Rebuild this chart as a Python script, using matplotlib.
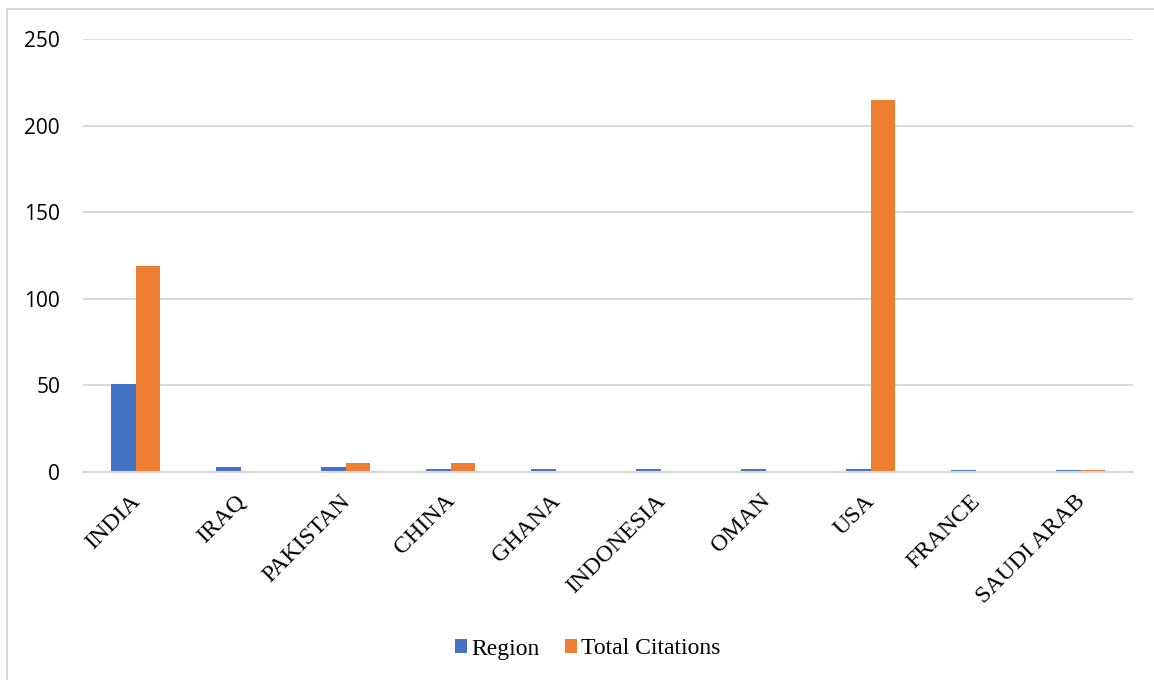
import matplotlib
matplotlib.use("Agg")
import matplotlib.pyplot as plt
import matplotlib.transforms as mtransforms
import numpy as np
from matplotlib.patches import Rectangle

countries = ["INDIA", "IRAQ", "PAKISTAN", "CHINA", "GHANA", "INDONESIA", "OMAN", "USA", "FRANCE", "SAUDI ARAB"]
region = [51, 3, 3, 2, 2, 2, 2, 2, 1, 1]
total_citations = [119, 0, 5, 5, 0, 0, 0, 215, 0, 1]
yticks = [0, 50, 100, 150, 200, 250]

fig = plt.figure(figsize=(11.54, 6.8), dpi=100)
ax = fig.add_axes([83/1154, 1-472/680, 1050/1154, 433/680])

x = np.arange(len(countries))
w = 0.238
ax.bar(x - w/2, region, width=w, color="#4472C4", label="Region", zorder=3)
ax.bar(x + w/2, total_citations, width=w, color="#ED7D31", label="Total Citations", zorder=3)

ax.set_xlim(-0.5, len(countries) - 0.5)
ax.set_ylim(0, 250)
ax.set_yticks(yticks)
ax.set_yticklabels([str(t) for t in yticks], fontfamily="Open Sans", fontsize=15)
ax.tick_params(axis="y", length=0, pad=16.5)
ax.yaxis.grid(True, color="#d9d9d9", linewidth=1.5, zorder=0)
for s in ["top", "right", "left"]:
    ax.spines[s].set_visible(False)
ax.spines["bottom"].set_color("#d9d9d9")
ax.spines["bottom"].set_linewidth(1.5)
ax.spines["bottom"].set_zorder(4)

ax.set_xticks(x)
ax.set_xticklabels(countries, rotation=45, ha="right", va="top", rotation_mode="anchor",
                   fontfamily="Liberation Serif", fontsize=17.2)
ax.tick_params(axis="x", length=0, pad=14)
shift = mtransforms.ScaledTranslation(-6/100, 1/100, fig.dpi_scale_trans)
for lbl in ax.get_xticklabels():
    lbl.set_transform(lbl.get_transform() + shift)

leg = fig.legend(loc="center", bbox_to_anchor=(588/1154, 1-649/680), ncol=2, frameon=False,
                 prop={"family": "Liberation Serif", "size": 17},
                 handlelength=0.5, handleheight=0.5, handletextpad=0.2, columnspacing=1.05)

fig.patches.append(Rectangle((7/1154, -0.1), 1.2, 1 - 9.5/680 + 0.1, transform=fig.transFigure,
                             fill=False, edgecolor="#d9d9d9", linewidth=1.5))

fig.savefig("out.png", dpi=100)
